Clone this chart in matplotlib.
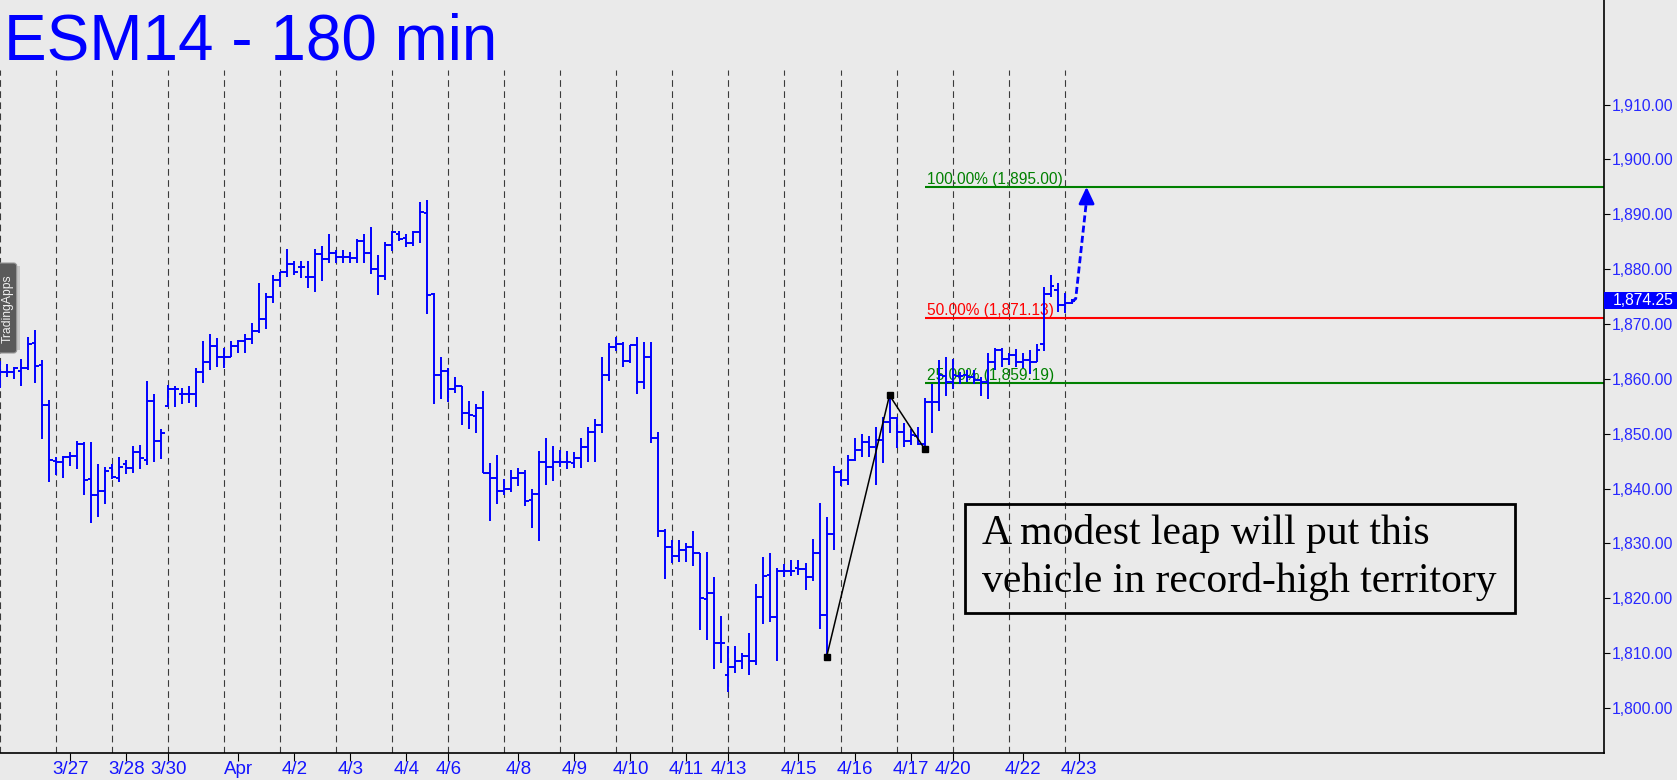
import matplotlib
matplotlib.use('Agg')
import matplotlib.pyplot as plt
import numpy as np
from matplotlib.patches import Rectangle, FancyBboxPatch
from matplotlib.transforms import blended_transform_factory, IdentityTransform

plt.rcParams['font.family'] = ['Liberation Sans', 'DejaVu Sans']

## ESM14 180 min bars (open, high, low, close)
opens = [1861.3, 1861.3, 1861.3, 1861.5, 1861.9, 1866.6, 1862.5, 1855.3, 1845.0, 1844.9,
         1845.8, 1846.0, 1848.1, 1841.7, 1838.8, 1839.6, 1843.7, 1842.0, 1844.4, 1843.7,
         1846.7, 1845.2, 1855.9, 1848.7, 1855.1, 1858.1, 1857.2, 1857.2, 1857.2, 1861.2,
         1863.1, 1865.9, 1864.0, 1863.9, 1866.0, 1866.9, 1867.3, 1868.7, 1870.9, 1875.0,
         1878.1, 1879.4, 1880.9, 1880.4, 1878.6, 1878.6, 1882.8, 1881.8, 1883.0, 1882.3,
         1882.2, 1882.1, 1885.1, 1882.9, 1880.1, 1878.7, 1884.4, 1886.4, 1885.6, 1884.8,
         1886.8, 1890.3, 1875.5, 1860.7, 1861.5, 1858.1, 1858.7, 1853.8, 1853.2, 1854.6,
         1842.8, 1841.9, 1839.6, 1840.0, 1842.0, 1842.9, 1838.0, 1839.0, 1844.9, 1843.9,
         1844.9, 1844.9, 1844.6, 1845.6, 1847.6, 1850.4, 1851.6, 1860.7, 1865.8, 1866.3,
         1863.3, 1866.1, 1859.5, 1863.9, 1849.2, 1832.3, 1829.4, 1827.7, 1828.8, 1829.4,
         1828.2, 1819.8, 1820.9, 1811.9, 1806.0, 1807.4, 1808.6, 1809.4, 1808.6, 1820.3,
         1824.3, 1816.6, 1825.0, 1825.0, 1825.5, 1825.3, 1823.8, 1828.3, 1817.0, 1831.7,
         1843.1, 1841.6, 1845.2, 1847.0, 1848.5, 1847.5, 1848.9, 1852.2, 1852.8, 1850.4,
         1848.6, 1849.5, 1848.1, 1855.8, 1855.8, 1860.5, 1859.5, 1860.5, 1860.7, 1860.3,
         1859.8, 1859.5, 1863.0, 1865.3, 1863.7, 1864.3, 1863.1, 1863.4, 1863.1, 1866.4,
         1875.5, 1876.2, 1873.4, 1873.8]
highs = [1863.3, 1862.7, 1862.2, 1863.6, 1867.6, 1868.9, 1863.4, 1856.1, 1845.8, 1845.9,
         1846.6, 1848.7, 1848.5, 1848.5, 1844.5, 1844.0, 1844.5, 1845.7, 1845.2, 1847.8,
         1847.9, 1859.6, 1857.3, 1850.8, 1858.8, 1858.7, 1858.3, 1858.7, 1861.9, 1866.9,
         1868.2, 1867.4, 1865.6, 1866.9, 1867.1, 1868.1, 1870.1, 1877.5, 1875.7, 1878.9,
         1879.5, 1883.6, 1881.5, 1881.5, 1881.5, 1883.6, 1884.2, 1886.4, 1883.5, 1883.5,
         1883.1, 1885.4, 1886.4, 1887.6, 1882.6, 1884.9, 1886.9, 1887.0, 1886.4, 1887.0,
         1892.2, 1892.6, 1875.6, 1863.9, 1861.9, 1860.3, 1858.7, 1855.9, 1855.5, 1857.7,
         1844.6, 1846.1, 1841.7, 1843.3, 1843.7, 1843.4, 1840.0, 1846.9, 1849.3, 1847.8,
         1847.1, 1846.8, 1846.6, 1849.3, 1851.3, 1852.6, 1864.0, 1866.6, 1867.6, 1866.8,
         1866.2, 1867.6, 1866.7, 1866.7, 1850.4, 1832.6, 1830.6, 1830.6, 1830.1, 1832.3,
         1828.3, 1828.5, 1823.9, 1816.8, 1811.3, 1811.3, 1810.0, 1813.7, 1822.7, 1827.5,
         1828.2, 1825.5, 1826.2, 1827.0, 1827.0, 1826.5, 1830.9, 1837.3, 1834.9, 1844.1,
         1843.4, 1846.1, 1849.3, 1849.9, 1849.5, 1851.3, 1853.1, 1857.0, 1853.0, 1851.9,
         1850.8, 1851.3, 1856.5, 1859.1, 1863.4, 1863.9, 1863.7, 1861.3, 1861.6, 1861.6,
         1860.3, 1864.8, 1865.6, 1865.7, 1864.8, 1865.4, 1864.7, 1865.3, 1866.4, 1876.8,
         1878.9, 1877.4, 1875.6, 1874.5]
lows = [1858.3, 1860.4, 1859.9, 1858.7, 1861.7, 1859.2, 1849.0, 1841.2, 1842.5, 1842.0,
        1844.2, 1843.6, 1838.9, 1833.8, 1834.9, 1837.2, 1841.7, 1841.2, 1842.6, 1842.8,
        1843.5, 1844.3, 1844.8, 1845.4, 1854.8, 1854.9, 1855.5, 1855.6, 1854.8, 1859.2,
        1861.6, 1862.2, 1861.9, 1863.9, 1864.8, 1864.8, 1866.3, 1868.4, 1869.0, 1873.8,
        1876.7, 1878.5, 1879.0, 1878.3, 1876.6, 1875.9, 1877.9, 1881.1, 1881.1, 1881.2,
        1881.1, 1881.2, 1881.2, 1879.1, 1875.2, 1878.0, 1883.3, 1885.2, 1884.0, 1884.2,
        1884.7, 1871.9, 1855.5, 1856.4, 1855.7, 1857.5, 1851.5, 1850.8, 1850.1, 1842.8,
        1834.1, 1837.2, 1838.8, 1839.4, 1840.5, 1836.9, 1832.9, 1830.4, 1840.6, 1841.3,
        1844.0, 1843.5, 1843.7, 1843.7, 1844.9, 1844.9, 1850.2, 1859.7, 1865.1, 1862.2,
        1862.8, 1857.2, 1858.1, 1848.3, 1831.1, 1823.5, 1826.4, 1826.7, 1826.7, 1825.9,
        1814.3, 1812.4, 1807.1, 1808.3, 1803.0, 1806.4, 1807.2, 1806.0, 1807.8, 1815.3,
        1815.7, 1808.5, 1823.9, 1824.1, 1824.2, 1821.5, 1823.2, 1814.5, 1809.25, 1828.8,
        1840.4, 1840.7, 1845.1, 1845.7, 1845.8, 1840.7, 1844.7, 1850.1, 1847.4, 1847.6,
        1848.0, 1847.9, 1847.25, 1850.1, 1854.2, 1856.8, 1858.1, 1859.0, 1859.5, 1859.1,
        1856.9, 1856.3, 1861.6, 1862.1, 1862.5, 1862.1, 1861.9, 1860.9, 1863.1, 1865.1,
        1875.0, 1872.2, 1872.0, 1873.6]
closes = [1861.3, 1861.3, 1862.0, 1862.0, 1866.3, 1862.3, 1855.3, 1845.2, 1844.9, 1845.8,
          1846.0, 1848.1, 1841.6, 1838.8, 1839.6, 1843.2, 1842.2, 1844.0, 1843.7, 1846.7,
          1845.5, 1855.9, 1848.7, 1850.1, 1858.1, 1858.1, 1857.2, 1857.2, 1861.2, 1863.1,
          1865.9, 1864.0, 1863.9, 1866.0, 1866.9, 1867.3, 1868.7, 1870.9, 1875.0, 1878.1,
          1879.4, 1880.9, 1879.5, 1880.4, 1878.6, 1882.8, 1881.8, 1883.0, 1882.3, 1882.2,
          1882.1, 1885.1, 1882.9, 1880.1, 1878.7, 1884.4, 1886.7, 1885.4, 1884.8, 1886.8,
          1890.5, 1875.3, 1860.7, 1861.5, 1858.1, 1858.7, 1853.8, 1853.4, 1854.6, 1842.8,
          1841.9, 1839.6, 1840.0, 1842.0, 1842.9, 1837.8, 1839.0, 1844.9, 1844.0, 1844.9,
          1844.9, 1844.9, 1845.6, 1847.6, 1850.4, 1851.6, 1860.7, 1865.8, 1866.3, 1863.3,
          1866.1, 1859.5, 1863.9, 1849.2, 1832.3, 1829.4, 1827.7, 1828.8, 1829.3, 1828.2,
          1820.1, 1820.9, 1811.9, 1811.8, 1807.4, 1808.6, 1809.4, 1808.6, 1820.3, 1824.1,
          1816.6, 1825.0, 1825.0, 1824.9, 1825.3, 1823.8, 1828.3, 1817.0, 1831.7, 1843.1,
          1841.6, 1845.2, 1847.0, 1848.5, 1847.5, 1848.9, 1852.2, 1852.8, 1850.4, 1848.6,
          1849.7, 1848.1, 1855.8, 1855.8, 1860.7, 1859.5, 1860.7, 1860.5, 1860.3, 1859.8,
          1859.5, 1863.0, 1865.3, 1863.7, 1864.3, 1863.1, 1863.4, 1863.1, 1865.3, 1875.5,
          1877.0, 1873.4, 1873.8, 1874.25]

tick_bars = [10, 18, 24, 34, 42, 50, 58, 64, 74, 82, 90, 98, 104, 114, 122, 130, 136, 146, 154]
tick_labels = ['3/27', '3/28', '3/30', 'Apr', '4/2', '4/3', '4/4', '4/6', '4/8', '4/9',
               '4/10', '4/11', '4/13', '4/15', '4/16', '4/17', '4/20', '4/22', '4/23']
session_lines = list(range(0, 153, 8))

pivot_bars = [118, 127, 132]
pivot_prices = [1809.25, 1857.00, 1847.25]

fib_pcts = [100.0, 50.0, 25.0]
fib_levels = [1895.00, 1871.13, 1859.19]
fib_colors = ['#008000', '#FF0000', '#008000']

arrow_x = [153.0, 153.6, 155.15]
arrow_y = [1874.0, 1874.6, 1892.6]
arrow_tip = 1895.00
last_price = 1874.25

price_ticks = np.arange(1800, 1911, 10)

note_lines = ['A modest leap will put this', 'vehicle in record-high territory']

W, H = 1677, 780
bg = '#EAEAEA'
blue = '#0000FF'
ymin, ymax = 1791.81, 1929.05
xmin, xmax = -0.07, 229.07

fig = plt.figure(figsize=(W / 100, H / 100), dpi=100, facecolor=bg)
ax = fig.add_axes([0, 27 / H, 1604 / W, 753 / H])
ax.set_facecolor(bg)
ax.set_xlim(xmin, xmax)
ax.set_ylim(ymin, ymax)

# session separators
ax.vlines(session_lines, ymin, 1916.3, colors='#3a3a3a', lw=0.8,
          linestyles=[(0, (6, 4))], zorder=1)

# fib targets
for pct, lvl, col in zip(fib_pcts, fib_levels, fib_colors):
    ax.hlines(lvl, pivot_bars[2], xmax, color=col, lw=1.5, zorder=2)
    ax.text(pivot_bars[2] + 0.36, lvl + 0.55, f'{pct:.2f}% ({lvl:,.2f})', color=col,
            fontsize=11.2, va='baseline', ha='left', zorder=2)

# OHLC bars
x = np.arange(len(opens))
ax.vlines(x, lows, highs, color=blue, lw=1.4, zorder=3)
ax.hlines(opens, x - 0.5, x, color=blue, lw=1.4, zorder=3)
ax.hlines(closes, x, x + 0.5, color=blue, lw=1.4, zorder=3)

# ABC pivots
ax.plot(pivot_bars, pivot_prices, color='black', lw=1.1, marker='s', ms=5, zorder=4)

# projected move
ax.plot(arrow_x, arrow_y, color=blue, lw=2.0, dashes=(2.5, 1.2), zorder=4)
ax.annotate('', xy=(arrow_x[-1], arrow_tip), xytext=(arrow_x[-1], arrow_y[-1]),
            arrowprops=dict(arrowstyle='-|>,head_length=1.0,head_width=0.47',
                            color=blue, lw=2.0, shrinkA=0, shrinkB=0), zorder=4)

for s in ['top', 'left']:
    ax.spines[s].set_visible(False)
for s in ['right', 'bottom']:
    ax.spines[s].set_linewidth(1.2)
    ax.spines[s].set_color('black')

ax.yaxis.tick_right()
ax.set_yticks(price_ticks)
ax.set_yticklabels([f'{v:,.2f}' for v in price_ticks])
ax.tick_params(axis='y', direction='out', length=4.3, width=0.8, colors='black',
               labelcolor='#2828FF', labelsize=11.3, pad=1.5)
ax.set_xticks(tick_bars)
ax.set_xticklabels(tick_labels, family=['Liberation Sans Narrow', 'Liberation Sans'])
ax.tick_params(axis='x', direction='out', length=5.8, width=0.8, colors='black',
               labelcolor='#1414FF', labelsize=13.5, pad=0.3)

# last price marker
tr = blended_transform_factory(ax.transAxes, ax.transData)
ax.add_patch(Rectangle((1.0, last_price - 1.6), 73 / 1604, 3.2, transform=tr,
                       facecolor=blue, edgecolor='none', clip_on=False, zorder=5))
ax.text(1.0 + 8.5 / 1604, last_price, f'{last_price:,.2f}', transform=tr, color='white',
        fontsize=11.3, va='center', ha='left', zorder=6, clip_on=False)

# title
fig.text(4 / W, 1 - 59.3 / H, 'ESM14 - 180 min', color=blue, fontsize=46,
         ha='left', va='baseline')

# comment box
fig.patches.append(Rectangle((965.4 / W, 1 - 613.3 / H), (1515 - 965.4) / W, 109 / H,
                             transform=fig.transFigure, fill=False, edgecolor='black',
                             lw=2.0, zorder=5))
for i, line in enumerate(note_lines):
    fig.text(982 / W, 1 - (544.3 + 47.4 * i) / H, line, fontsize=30,
             family=['Liberation Serif', 'DejaVu Serif'], color='black',
             ha='left', va='baseline', zorder=6)

# TradingApps tab
fig.patches.append(Rectangle((16.7, H - 350), 3, 84, transform=IdentityTransform(),
                             facecolor='#c8c8c8', edgecolor='none', zorder=6))
fig.patches.append(FancyBboxPatch((-6, H - 353), 22.7, 90,
                                  boxstyle='round,pad=0,rounding_size=3',
                                  transform=IdentityTransform(), facecolor='#5a5a5a',
                                  edgecolor='#9a9a9a', lw=0.8, zorder=7))
fig.text(7.6 / W, 1 - 309 / H, 'TradingApps', rotation=90, color='#f0f0f0',
         fontsize=8.7, ha='center', va='center', zorder=8)

fig.savefig('out.png', dpi=100, facecolor=bg)
